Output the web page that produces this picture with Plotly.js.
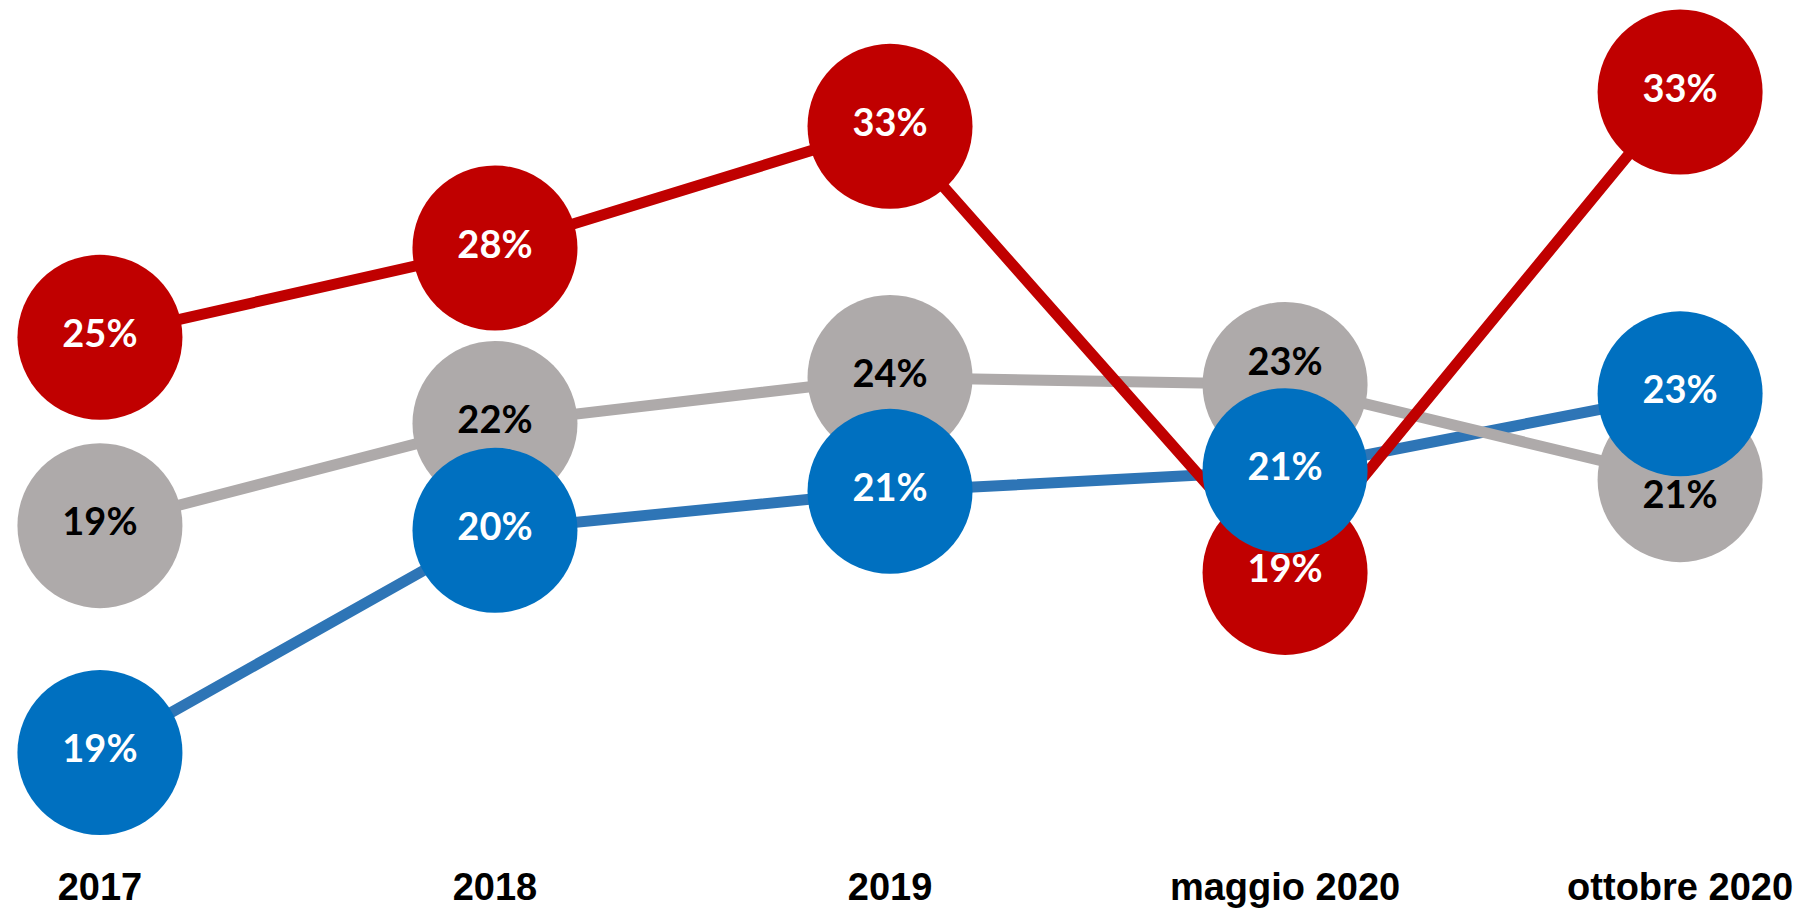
<!DOCTYPE html>
<html>
<head>
<meta charset="utf-8">
<script src="https://cdn.plot.ly/plotly-3.0.1.min.js"></script>
<style>
  html, body { margin: 0; padding: 0; background: #ffffff; }
  #chart { width: 1799px; height: 911px; }
</style>
</head>
<body>
<div id="chart"></div>
<script>
// Categories (x axis)
const categories = ["2017", "2018", "2019", "maggio 2020", "ottobre 2020"];

// Plotted levels (vertical position of each bubble)
const redLevels  = [25.36, 27.65, 30.77, 19.33, 31.65];
const grayLevels = [20.53, 23.15, 24.33, 24.15, 21.71];
const blueLevels = [14.71, 20.41, 21.41, 21.94, 23.91];

// Labels shown inside the bubbles
const redLabels  = ["25%", "28%", "33%", "19%", "33%"];
const grayLabels = ["19%", "22%", "24%", "23%", "21%"];
const blueLabels = ["19%", "20%", "21%", "21%", "23%"];

const RED = "#C00000", GRAY = "#AEAAAA", BLUE = "#0070C0", BLUE_LINE = "#2E75B6";
const LINE_W = 11, BUBBLE = 165;
const labelFont = { family: "Lato, 'Open Sans', sans-serif", size: 38, weight: "bold" };

function lineTrace(y, color) {
  return { type: "scatter", mode: "lines", x: categories, y: y,
           line: { color: color, width: LINE_W }, hoverinfo: "skip", cliponaxis: false };
}
function bubbleTrace(y, color) {
  return { type: "scatter", mode: "markers", x: categories, y: y,
           marker: { color: color, size: BUBBLE, line: { width: 0 }, opacity: 1 },
           hoverinfo: "skip", cliponaxis: false };
}
function textTrace(y, labels, color, positions) {
  return { type: "scatter", mode: "text", x: categories, y: y, text: labels,
           textposition: positions,
           textfont: Object.assign({ color: color }, labelFont),
           hoverinfo: "skip", cliponaxis: false };
}

const data = [
  // lines: blue bottom, gray, red on top
  lineTrace(blueLevels, BLUE_LINE),
  lineTrace(grayLevels, GRAY),
  lineTrace(redLevels, RED),
  // bubbles: red, gray, blue on top
  bubbleTrace(redLevels, RED),
  bubbleTrace(grayLevels, GRAY),
  bubbleTrace(blueLevels, BLUE),
  // labels
  textTrace(redLevels, redLabels, "#FFFFFF", "middle center"),
  textTrace(grayLevels, grayLabels, "#000000",
            ["middle center", "middle center", "middle center", "top center", "bottom center"]),
  textTrace(blueLevels, blueLabels, "#FFFFFF", "middle center")
];

const layout = {
  width: 1799, height: 911,
  margin: { l: 0, r: 0, t: 0, b: 50 },
  paper_bgcolor: "#ffffff", plot_bgcolor: "#ffffff",
  showlegend: false,
  xaxis: {
    type: "category",
    range: [-0.253, 4.301],
    showgrid: false, zeroline: false, showline: false, ticks: "",
    tickfont: { family: "'Liberation Sans Narrow', 'Arial Narrow', 'Liberation Sans', Arial, sans-serif",
                size: 38, color: "#000000", weight: "bold" },
    fixedrange: true
  },
  yaxis: {
    range: [11.93, 34.01],
    visible: false, showgrid: false, zeroline: false, fixedrange: true
  }
};

Plotly.newPlot("chart", data, layout, { displayModeBar: false, staticPlot: true });
</script>
</body>
</html>
